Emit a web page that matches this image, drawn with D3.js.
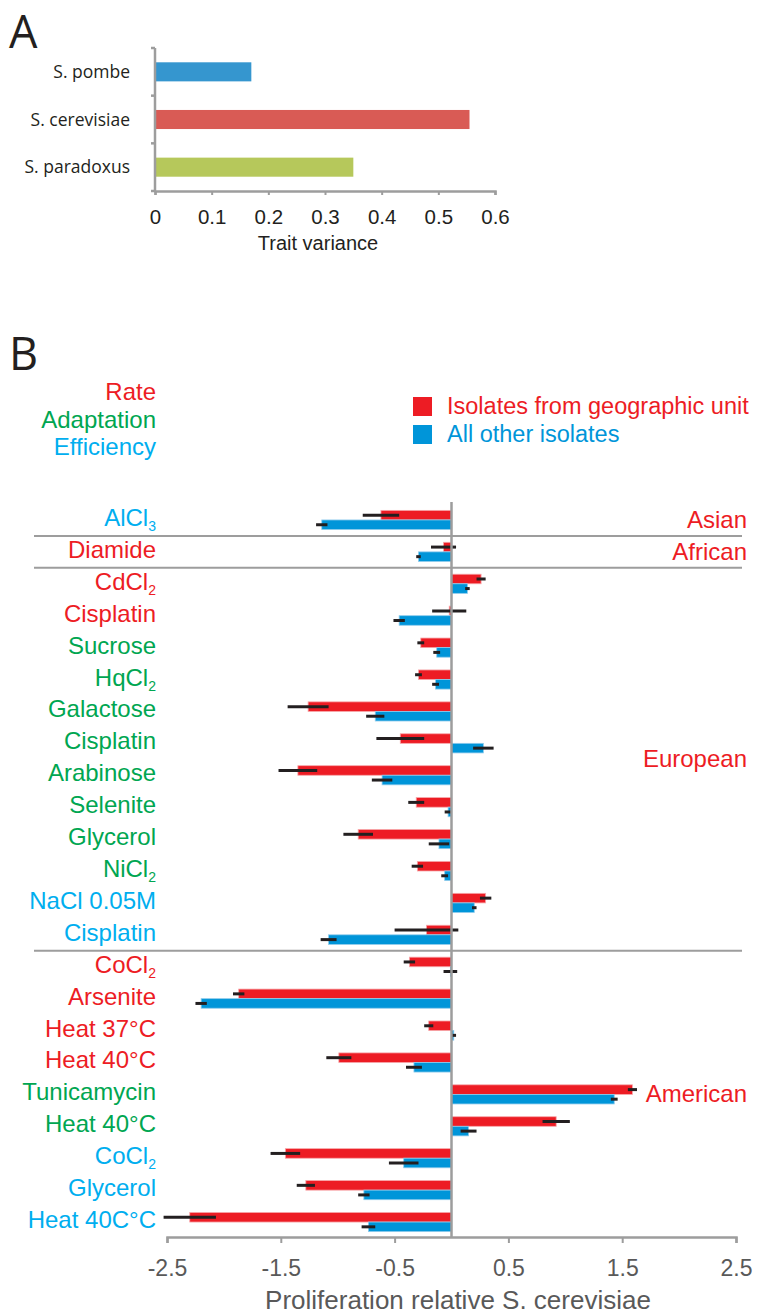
<!DOCTYPE html>
<html>
<head>
<meta charset="utf-8">
<script src="https://cdn.jsdelivr.net/npm/d3@7"></script>
<style>
  html, body { margin: 0; padding: 0; background: #fff; }
  svg { display: block; }
</style>
</head>
<body>
<svg id="fig" width="761" height="1315"></svg>
<script>
// ---------- Panel A: trait variance per species ----------
const species = ["S. pombe", "S. cerevisiae", "S. paradoxus"];
const traitVariance = [0.17, 0.555, 0.35];
const speciesColors = ["#3596cf", "#d95b55", "#b6c85b"];
const varianceTicks = [0, 0.1, 0.2, 0.3, 0.4, 0.5, 0.6];

// ---------- Panel B: proliferation relative to S. cerevisiae ----------
// "_" marks a subscript digit in a condition name
const conditions = [
  "AlCl_3", "Diamide", "CdCl_2", "Cisplatin", "Sucrose", "HqCl_2", "Galactose",
  "Cisplatin", "Arabinose", "Selenite", "Glycerol", "NiCl_2", "NaCl 0.05M",
  "Cisplatin", "CoCl_2", "Arsenite", "Heat 37°C", "Heat 40°C", "Tunicamycin",
  "Heat 40°C", "CoCl_2", "Glycerol", "Heat 40C°C"
];
const traitTypes = [
  "Efficiency", "Rate", "Rate", "Rate", "Adaptation", "Adaptation", "Adaptation",
  "Adaptation", "Adaptation", "Adaptation", "Adaptation", "Adaptation", "Efficiency",
  "Efficiency", "Rate", "Rate", "Rate", "Rate", "Adaptation",
  "Adaptation", "Efficiency", "Efficiency", "Efficiency"
];
const geoUnits = [
  "Asian", "African", "European", "European", "European", "European", "European",
  "European", "European", "European", "European", "European", "European",
  "European", "American", "American", "American", "American", "American",
  "American", "American", "American", "American"
];
// isolates from the geographic unit (mean, error)
const unitMeans = [
  -0.62, -0.07, 0.26, -0.02, -0.27, -0.29, -1.26,
  -0.45, -1.35, -0.31, -0.82, -0.30, 0.30,
  -0.22, -0.37, -1.87, -0.20, -0.99, 1.59,
  0.92, -1.46, -1.28, -2.30
];
const unitErrors = [
  0.16, 0.11, 0.04, 0.15, 0.03, 0.03, 0.18,
  0.21, 0.17, 0.07, 0.13, 0.05, 0.05,
  0.28, 0.05, 0.05, 0.04, 0.11, 0.04,
  0.12, 0.13, 0.08, 0.23
];
// all other isolates (mean, error)
const otherMeans = [
  -1.14, -0.29, 0.14, -0.46, -0.13, -0.14, -0.67,
  0.28, -0.61, -0.03, -0.11, -0.06, 0.20,
  -1.08, -0.01, -2.20, 0.02, -0.33, 1.43,
  0.15, -0.42, -0.77, -0.73
];
const otherErrors = [
  0.05, 0.02, 0.02, 0.05, 0.03, 0.03, 0.08,
  0.09, 0.09, 0.03, 0.09, 0.03, 0.02,
  0.07, 0.06, 0.05, 0.02, 0.07, 0.03,
  0.07, 0.13, 0.05, 0.06
];
const traitNames = ["Rate", "Adaptation", "Efficiency"];
const traitColors = { Rate: "#ed1c24", Adaptation: "#00a651", Efficiency: "#00aeef" };
const seriesNames = ["Isolates from geographic unit", "All other isolates"];
const seriesColors = ["#ed1c24", "#0095d9"];
const proliferationTicks = [-2.5, -1.5, -0.5, 0.5, 1.5, 2.5];

const svg = d3.select("#fig");
const SANS = "'Liberation Sans', Arial, Helvetica, sans-serif";
const HUMANIST = "'Open Sans', 'Noto Sans', sans-serif";
const AXIS_GREY = "#9d9d9d";
const INK = "#231f20";
const plain = d => String(d);   // keep ASCII hyphen for negatives

// panel letters
svg.append("text").attr("x", 9).attr("y", 48).text("A")
  .attr("font-family", HUMANIST).attr("font-size", 45).attr("fill", INK);
svg.append("text").attr("x", 9).attr("y", 370).text("B")
  .attr("font-family", HUMANIST).attr("font-size", 45).attr("fill", INK);

// ================= Panel A =================
const ax = d3.scaleLinear().domain([0, 0.6]).range([155, 495]);
const ay = d3.scaleBand().domain(species).range([48, 191]).paddingInner(0.6).paddingOuter(0.3);
const gA = svg.append("g");

gA.selectAll("rect.species").data(species).join("rect")
  .attr("class", "species")
  .attr("x", ax(0))
  .attr("y", d => ay(d))
  .attr("width", (d, i) => ax(traitVariance[i]) - ax(0))
  .attr("height", ay.bandwidth())
  .attr("fill", (d, i) => speciesColors[i]);

// y axis with ticks at category boundaries
const aTop = 48, aBottom = 191;
gA.append("line").attr("x1", ax(0)).attr("x2", ax(0)).attr("y1", aTop).attr("y2", aBottom)
  .attr("stroke", AXIS_GREY).attr("stroke-width", 2.5);
const yTickPos = [aTop].concat(species.slice(1).map(s => ay(s) - ay.step() * ay.paddingInner() / 2)).concat([aBottom]);
gA.selectAll("line.ytick").data(yTickPos).join("line")
  .attr("class", "ytick")
  .attr("x1", ax(0) - 4).attr("x2", ax(0))
  .attr("y1", d => d).attr("y2", d => d)
  .attr("stroke", AXIS_GREY).attr("stroke-width", 2.5);

gA.selectAll("text.species").data(species).join("text")
  .attr("class", "species")
  .attr("x", 130)
  .attr("y", d => ay(d) + ay.bandwidth() / 2 + 6)
  .attr("text-anchor", "end")
  .attr("font-family", HUMANIST).attr("font-size", 17.5).attr("fill", INK)
  .text(d => d);

// x axis
const xAxisA = d3.axisBottom(ax).tickValues(varianceTicks).tickFormat(plain).tickSize(4).tickPadding(0);
const gxA = gA.append("g").attr("transform", `translate(0,${aBottom})`).call(xAxisA);
gxA.select(".domain").attr("stroke", AXIS_GREY).attr("stroke-width", 2.5);
gxA.selectAll(".tick line").attr("stroke", AXIS_GREY).attr("stroke-width", 2);
gxA.selectAll(".tick text").attr("font-family", SANS).attr("font-size", 20.5)
  .attr("fill", INK).attr("dy", 0).attr("y", 33);
gA.append("text").attr("x", (ax(0) + ax(0.6)) / 2 - 7).attr("y", 250)
  .attr("text-anchor", "middle").attr("font-family", SANS).attr("font-size", 20)
  .attr("fill", INK).text("Trait variance");

// ================= Panel B =================
const bx = d3.scaleLinear().domain([-2.5, 2.5]).range([167, 736]);
const rows = d3.range(conditions.length);
const by = d3.scaleBand().domain(rows).range([504, 1238]).paddingInner(0.4).paddingOuter(0.2);
const sub = d3.scaleBand().domain([0, 1]).range([0, by.bandwidth()]);
const gB = svg.append("g");

// trait-type key
gB.selectAll("text.trait").data(traitNames).join("text")
  .attr("class", "trait")
  .attr("x", 156).attr("y", (d, i) => 400 + i * 27.5)
  .attr("text-anchor", "end")
  .attr("font-family", SANS).attr("font-size", 24)
  .attr("fill", d => traitColors[d]).text(d => d);

// series legend
const leg = gB.append("g");
leg.selectAll("rect").data(seriesNames).join("rect")
  .attr("x", 413).attr("y", (d, i) => 397 + i * 28)
  .attr("width", 19).attr("height", 19)
  .attr("fill", (d, i) => seriesColors[i]);
leg.selectAll("text").data(seriesNames).join("text")
  .attr("x", 447).attr("y", (d, i) => 414 + i * 28)
  .attr("font-family", SANS).attr("font-size", 23.5)
  .attr("fill", (d, i) => i === 0 ? "#ed1c24" : "#0095d9")
  .text(d => d);

// separators between geographic units
const sepRows = rows.filter(i => i > 0 && geoUnits[i] !== geoUnits[i - 1]);
gB.selectAll("line.sep").data(sepRows).join("line")
  .attr("class", "sep")
  .attr("x1", 34).attr("x2", 742)
  .attr("y1", i => by(i) - by.step() * by.paddingInner() / 2)
  .attr("y2", i => by(i) - by.step() * by.paddingInner() / 2)
  .attr("stroke", AXIS_GREY).attr("stroke-width", 2);

// bars
const series = [
  { means: unitMeans, errs: unitErrors, color: seriesColors[0], edge: "#f7a7aa" },
  { means: otherMeans, errs: otherErrors, color: seriesColors[1], edge: "#8fcbec" }
];
series.forEach((s, k) => {
  gB.append("g").selectAll("rect").data(rows).join("rect")
    .attr("x", i => bx(Math.min(0, s.means[i])))
    .attr("y", i => by(i) + sub(k))
    .attr("width", i => Math.abs(bx(s.means[i]) - bx(0)))
    .attr("height", sub.bandwidth())
    .attr("fill", s.color)
    .attr("stroke", s.edge).attr("stroke-width", 0.8);
});
// error bars
series.forEach((s, k) => {
  gB.append("g").selectAll("line").data(rows).join("line")
    .attr("x1", i => bx(s.means[i] - s.errs[i]))
    .attr("x2", i => bx(s.means[i] + s.errs[i]))
    .attr("y1", i => by(i) + sub(k) + sub.bandwidth() / 2)
    .attr("y2", i => by(i) + sub(k) + sub.bandwidth() / 2)
    .attr("stroke", INK).attr("stroke-width", 3);
});

// zero line
const bTop = 502, bBottom = 1237;
gB.append("line").attr("x1", bx(0)).attr("x2", bx(0)).attr("y1", bTop).attr("y2", bBottom)
  .attr("stroke", AXIS_GREY).attr("stroke-width", 2.5);

// condition labels with subscripts
const condLabels = gB.selectAll("text.cond").data(rows).join("text")
  .attr("class", "cond")
  .attr("x", 156)
  .attr("y", i => by(i) + by.bandwidth() / 2 + 6)
  .attr("text-anchor", "end")
  .attr("font-family", SANS).attr("font-size", 24)
  .attr("fill", i => traitColors[traitTypes[i]]);
condLabels.each(function (i) {
  const parts = conditions[i].split("_");
  const t = d3.select(this);
  t.append("tspan").text(parts[0]);
  if (parts.length > 1) {
    t.append("tspan").attr("font-size", 14).attr("dy", 5).text(parts[1]);
  }
});

// geographic unit labels
const units = Array.from(new Set(geoUnits));
gB.selectAll("text.unit").data(units).join("text")
  .attr("class", "unit")
  .attr("x", 747)
  .attr("y", u => {
    const idx = rows.filter(i => geoUnits[i] === u);
    const mid = (by(idx[0]) + by(idx[idx.length - 1]) + by.bandwidth()) / 2;
    return mid + 8;
  })
  .attr("text-anchor", "end")
  .attr("font-family", SANS).attr("font-size", 24)
  .attr("fill", "#ed1c24").text(u => u);

// x axis
const xAxisB = d3.axisBottom(bx).tickValues(proliferationTicks).tickFormat(plain).tickSize(6).tickPadding(0);
const gxB = gB.append("g").attr("transform", `translate(0,${bBottom})`).call(xAxisB);
gxB.select(".domain").attr("stroke", AXIS_GREY).attr("stroke-width", 2.5);
gxB.selectAll(".tick line").attr("stroke", AXIS_GREY).attr("stroke-width", 2);
gxB.selectAll(".tick text").attr("font-family", SANS).attr("font-size", 23)
  .attr("fill", "#595959").attr("dy", 0).attr("y", 39);
gB.append("text").attr("x", 458).attr("y", 1309)
  .attr("text-anchor", "middle").attr("font-family", SANS).attr("font-size", 26)
  .attr("fill", "#595959").text("Proliferation relative S. cerevisiae");
</script>
</body>
</html>
